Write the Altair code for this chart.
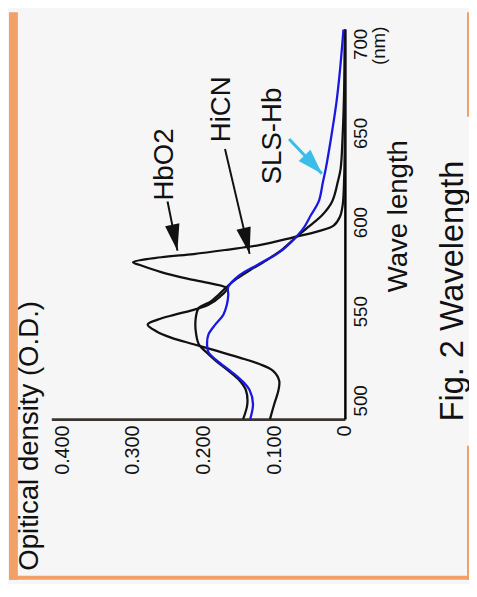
import altair as alt
import pandas as pd

FONT = "Liberation Sans"

# ---- curve data (wavelength nm, optical density) ----
HBO2_WL = [489.5, 498, 505.7, 511.2, 516.7, 520.4, 524, 527.8, 531.5, 535.2, 538.8, 542.5,
           545.3, 548, 550.8, 553.6, 558.2, 562.8, 565.6, 568.3, 572, 575.7, 577.5, 580.3,
           582.1, 584.5, 587.1, 591.3, 595, 598, 603, 610, 625, 650, 708]
HBO2_OD = [0.106, 0.0999, 0.094, 0.093, 0.102, 0.121, 0.149, 0.181, 0.214, 0.246, 0.267, 0.279,
           0.265, 0.2416, 0.214, 0.193, 0.1766, 0.167, 0.19, 0.223, 0.26, 0.288, 0.2997, 0.26,
           0.214, 0.167, 0.121, 0.0743, 0.037, 0.016, 0.007, 0.003, 0.001, 0.0, 0.0]

HICN_WL = [489.5, 498, 505.7, 511.2, 516.7, 522.3, 527, 531.5, 538.8, 546.2, 551.8, 555.4,
           559.1, 563.7, 568.3, 572.9, 578.5, 584.9, 591.3, 596.9, 604, 611.6, 622.6, 630,
           650, 675, 708]
HICN_OD = [0.144, 0.138, 0.140, 0.149, 0.165, 0.183, 0.196, 0.2067, 0.211, 0.211, 0.2067, 0.19,
           0.179, 0.167, 0.153, 0.135, 0.1115, 0.088, 0.0697, 0.053, 0.032, 0.018, 0.010, 0.006,
           0.003, 0.001, 0.0]

SLS_WL = [489.5, 498, 505.7, 511.2, 516.7, 522.3, 527, 531.5, 537, 542.5, 548, 553.6,
          559.1, 563.7, 570.2, 576.6, 583, 589.5, 596.9, 604, 611.6, 622.6, 630, 648.6,
          667, 685, 708]
SLS_OD = [0.134, 0.130, 0.1347, 0.146, 0.1626, 0.181, 0.193, 0.195, 0.193, 0.1835, 0.172, 0.167,
          0.165, 0.165, 0.149, 0.121, 0.093, 0.0743, 0.058, 0.048, 0.037, 0.031, 0.027, 0.019,
          0.012, 0.007, 0.002]

SERIES = ["HbO2", "HiCN", "SLS-Hb"]
OD_TICKS = [0, 0.1, 0.2, 0.3, 0.4]
WL_TICKS = [500, 550, 600, 650, 700]
OD_DOMAIN = [0, 0.4153]
WL_DOMAIN = [489.5, 708.3]

# ---- annotations ----
LABEL_TEXT = ["HbO2", "HiCN", "SLS-Hb"]
LABEL_OD = [0.255, 0.1734, 0.1015]
LABEL_WL = [632.3, 663.3, 648.3]

ARROW_NAME = ["HbO2", "HiCN", "SLS-Hb"]
ARROW_OD0 = [0.2509, 0.1696, 0.0790]
ARROW_WL0 = [611.6, 641.0, 646.6]
ARROW_OD1 = [0.2369, 0.1348, 0.0325]
ARROW_WL1 = [584.0, 582.2, 627.2]
ARROW_ANGLE = [168.7, 166.8, 136.4]

curves = pd.concat([
    pd.DataFrame({"series": "HbO2", "wl": HBO2_WL, "od": HBO2_OD}),
    pd.DataFrame({"series": "HiCN", "wl": HICN_WL, "od": HICN_OD}),
    pd.DataFrame({"series": "SLS-Hb", "wl": SLS_WL, "od": SLS_OD}),
], ignore_index=True)

labels = pd.DataFrame({"text": LABEL_TEXT, "od": LABEL_OD, "wl": LABEL_WL})
arrows = pd.DataFrame({"name": ARROW_NAME, "od": ARROW_OD1, "wl": ARROW_WL1,
                       "od0": ARROW_OD0, "wl0": ARROW_WL0, "ang": ARROW_ANGLE})

ORANGE = "#F1A068"
BLUE = "#1818E0"
CYAN = "#3BBDEA"

x_axis = alt.Axis(values=OD_TICKS,
                  labelExpr="datum.value == 0 ? '0' : format(datum.value, '.3f')",
                  labelAngle=270, labelAlign="right", labelBaseline="middle",
                  labelPadding=6, labelFontSize=20, labelFont=FONT, labelColor="#111111",
                  ticks=False, tickSize=0, grid=False, domainColor="#3a3530",
                  domainWidth=3, title=None, labelOverlap=False, labelFlush=False)
y_axis = alt.Axis(orient="right", values=WL_TICKS, labelAngle=270, labelAlign="center",
                  labelBaseline="top", labelPadding=7, labelFontSize=19, labelFont=FONT,
                  labelColor="#111111", ticks=False, tickSize=0, grid=False,
                  domainColor="#000000", domainWidth=2.5, title=None,
                  labelOverlap=False, labelFlush=False)

x_scale = alt.Scale(domain=OD_DOMAIN, reverse=True, nice=False, zero=False)
y_scale = alt.Scale(domain=WL_DOMAIN, nice=False, zero=False)


def X():
    return alt.X("od:Q", scale=x_scale, axis=x_axis)


def Y():
    return alt.Y("wl:Q", scale=y_scale, axis=y_axis)


def band(x, x2, y, y2):
    return alt.Chart(alt.Data(values=[{}])).mark_rect(color=ORANGE).encode(
        x=alt.value(x), x2=alt.value(x2), y=alt.value(y), y2=alt.value(y2))


def title_text(text, x, y, size):
    return alt.Chart(alt.Data(values=[{}])).mark_text(
        text=text, angle=270, align="center", baseline="middle",
        fontSize=size, font=FONT, color="#111111").encode(
        x=alt.value(x), y=alt.value(y))


lines = alt.Chart(curves).mark_line(
    strokeWidth=2.3, interpolate="catmull-rom").encode(
    x=X(), y=Y(),
    order=alt.Order("wl:Q"),
    color=alt.Color("series:N", scale=alt.Scale(domain=SERIES,
                    range=["#111111", "#111111", BLUE]), legend=None),
    detail="series:N",
)

shaft_black = alt.Chart(arrows).transform_filter(
    "datum.name != 'SLS-Hb'").mark_rule(color="#111111", strokeWidth=2).encode(
    x=X(), y=Y(), x2=alt.X2("od0:Q"), y2=alt.Y2("wl0:Q"))
shaft_cyan = alt.Chart(arrows).transform_filter(
    "datum.name == 'SLS-Hb'").mark_rule(color=CYAN, strokeWidth=3).encode(
    x=X(), y=Y(), x2=alt.X2("od0:Q"), y2=alt.Y2("wl0:Q"))

HEAD = "M0,0L0.55,2L-0.55,2Z"
head_black = alt.Chart(arrows).transform_filter(
    "datum.name != 'SLS-Hb'").mark_point(
    shape=HEAD, filled=True, size=720, color="#111111", opacity=1, strokeWidth=0).encode(
    x=X(), y=Y(), angle=alt.Angle("ang:Q", scale=None))
head_cyan = alt.Chart(arrows).transform_filter(
    "datum.name == 'SLS-Hb'").mark_point(
    shape="M0,0L0.65,2L-0.65,2Z", filled=True, size=650, color=CYAN, opacity=1,
    strokeWidth=0).encode(
    x=X(), y=Y(), angle=alt.Angle("ang:Q", scale=None))

label_marks = alt.Chart(labels).mark_text(
    angle=270, align="center", baseline="middle", fontSize=28, font=FONT,
    color="#111111").encode(x=X(), y=Y(), text="text:N")

chart = alt.layer(
    band(-43, -34, -17, 559),
    band(-43, 424, 555, 559),
    band(422, 424, -17, 89),
    band(422, 424, 423, 559),
    lines,
    shaft_black, shaft_cyan, head_black, head_cyan,
    label_marks,
    title_text("Opitical density (O.D.)", -21.8, 413, 28),
    title_text("Wave length", 353, 190, 28),
    title_text("(nm)", 333, 17, 19),
    title_text("Fig. 2 Wavelength", 408, 266, 33),
).properties(
    width=298, height=396,
    autosize=alt.AutoSizeParams(type="none"),
    padding={"left": 44, "top": 17, "right": 126, "bottom": 163},
).configure(background="#F6F6F6", font=FONT).configure_view(stroke=None)

chart.save("out.html", embed_options={"renderer": "svg", "actions": False})
